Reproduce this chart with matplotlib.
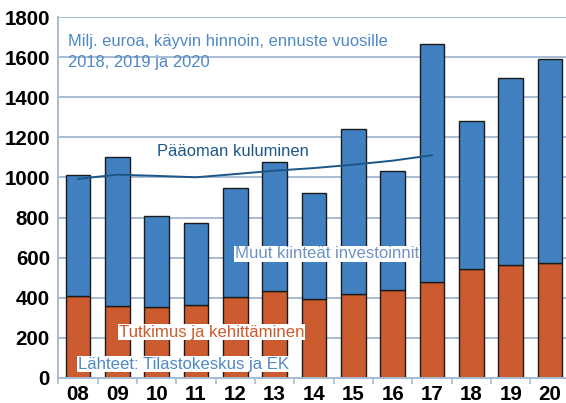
import matplotlib
matplotlib.use("Agg")
import matplotlib.pyplot as plt
import numpy as np

years = ["08", "09", "10", "11", "12", "13", "14", "15", "16", "17", "18", "19", "20"]
rd = [407, 360, 355, 365, 402, 435, 393, 420, 436, 478, 541, 565, 575]
total = [1010, 1100, 806, 774, 946, 1079, 921, 1244, 1031, 1667, 1281, 1497, 1592]
other = [t - r for t, r in zip(total, rd)]
depreciation = [993, 1014, 1008, 1001, 1017, 1034, 1047, 1064, 1084, 1111]

plt.rcParams['font.family'] = ['Liberation Sans', 'DejaVu Sans']

W, H = 566, 403
fig = plt.figure(figsize=(W / 100, H / 100), dpi=100)
left, right = 58.3, 569.7
top, bot = 17.3, 377.7
ax = fig.add_axes([left / W, (H - bot) / H, (right - left) / W, (bot - top) / H])

grid_c = '#a7bcd4'
blue = '#4281c1'
orange = '#cc5b2f'
x = np.arange(len(years))

ax.set_axisbelow(True)
ax.yaxis.grid(True, color=grid_c, linewidth=1.4)
ax.bar(x, rd, width=0.62, color=orange, edgecolor='#1a1a1a', linewidth=1.0, zorder=2)
ax.bar(x, other, bottom=rd, width=0.62, color=blue, edgecolor='#1a1a1a', linewidth=1.0, zorder=2)
ax.plot(x[:len(depreciation)], depreciation, color='#1d5689', linewidth=1.4, zorder=3)

ax.set_xlim(-0.5, 12.5)
ax.set_ylim(0, 1800)
ax.set_yticks(range(0, 1801, 200))
ax.set_xticks(x)
ax.set_xticklabels(years)
ax.set_xticks(np.arange(-0.5, 12.6, 1), minor=True)
ax.tick_params(axis='x', which='major', length=0, pad=5, labelsize=14.8)
ax.tick_params(axis='x', which='minor', length=4, color=grid_c, width=1.2)
ax.tick_params(axis='y', length=0, pad=6, labelsize=14.8)
for lbl in ax.get_xticklabels() + ax.get_yticklabels():
    lbl.set_fontweight('bold')
for s in ['top', 'right']:
    ax.spines[s].set_visible(False)
ax.spines['left'].set_color(grid_c)
ax.spines['left'].set_linewidth(1.4)
ax.spines['bottom'].set_color(grid_c)
ax.spines['bottom'].set_linewidth(1.4)

def ftext(px, py, s, **kw):
    fig.text(px / W, 1 - py / H, s, **kw)

ftext(68, 52, "Milj. euroa, käyvin hinnoin, ennuste vuosille\n2018, 2019 ja 2020",
      color='#4f88c6', fontsize=11.9, va='center', ha='left', linespacing=1.45)
ftext(157, 152, "Pääoman kuluminen", color='#1d5689', fontsize=11.9, va='center', ha='left')
box = dict(facecolor='white', edgecolor='none', pad=0.6)
ftext(235, 254, "Muut kiinteät investoinnit", color='#6f93c4', fontsize=12.1,
      va='center', ha='left', bbox=box, zorder=5)
ftext(119, 332, "Tutkimus ja kehittäminen", color='#cc5b2f', fontsize=12.1,
      va='center', ha='left', bbox=box, zorder=5)
ftext(78, 364, "Lähteet: Tilastokeskus ja EK", color='#4f88c6', fontsize=12.1,
      va='center', ha='left', bbox=box, zorder=5)

fig.savefig('out.png', dpi=100)
